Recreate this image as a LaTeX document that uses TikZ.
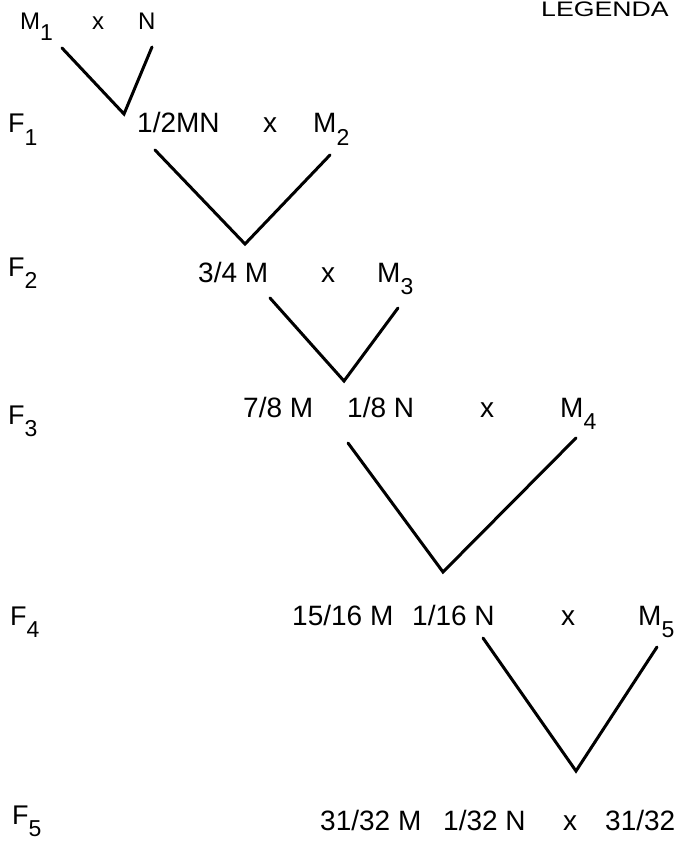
\documentclass[tikz,border=0pt]{standalone}
\usepackage{fontspec}
\setmainfont{Liberation Sans}
\newcommand\lsub[1]{\raisebox{-0.45em}{\fontsize{23}{23}\selectfont #1}}
\tikzset{
  lbl/.style={anchor=base west, inner sep=0pt, font=\fontsize{28}{30}\selectfont},
  toplbl/.style={anchor=base west, inner sep=0pt, font=\fontsize{24}{26}\selectfont},
  cross/.style={anchor=base, inner sep=0pt, font=\fontsize{28}{30}\selectfont},
  gen/.style={anchor=base west, inner sep=0pt, font=\fontsize{27}{30}\selectfont},
  cline/.style={line width=3pt, line join=miter, line cap=round}
}
\begin{document}
\begin{tikzpicture}[x=1pt,y=-1pt]
\path[use as bounding box] (0,0) rectangle (678,845);
\clip (0,0) rectangle (678,845);
\fill[white] (0,0) rectangle (678,845);

% legend
\node[anchor=base west, inner sep=0pt, font=\fontsize{21}{22}\selectfont] (leg) at (541,17) {\scalebox{1.27}[1]{LEGENDA}};

% generation labels
\node[gen] (f1) at (8,133) {F\lsub{1}};
\node[gen] (f2) at (8,276) {F\lsub{2}};
\node[gen] (f3) at (8,424) {F\lsub{3}};
\node[gen] (f4) at (10,625) {F\lsub{4}};
\node[gen] (f5) at (12,824) {F\lsub{5}};

% row 0
\node[toplbl] (m1) at (20,30) {M\lsub{1}};
\node[anchor=base, inner sep=0pt, font=\fontsize{24}{26}\selectfont] (x0) at (98,30) {x};
\node[toplbl] (n0) at (138,30) {N};

% row 1
\node[lbl] (r1a) at (137,133) {1/2MN};
\node[cross] (x1) at (270,133) {x};
\node[lbl] (m2) at (313,133) {M\lsub{2}};

% row 2
\node[lbl] (r2a) at (198,282) {3/4 M};
\node[cross] (x2) at (328,282) {x};
\node[lbl] (m3) at (377,282) {M\lsub{3}};

% row 3
\node[lbl] (r3a) at (243,417) {7/8 M};
\node[lbl] (r3b) at (347,417) {1/8 N};
\node[cross] (x3) at (487,417) {x};
\node[lbl] (m4) at (560,417) {M\lsub{4}};

% row 4
\node[lbl] (r4a) at (292,625) {15/16 M};
\node[lbl] (r4b) at (412,625) {1/16 N};
\node[cross] (x4) at (568,625) {x};
\node[lbl] (m5) at (638,625) {M\lsub{5}};

% row 5
\node[lbl] (r5a) at (320,830) {31/32 M};
\node[lbl] (r5b) at (443,830) {1/32 N};
\node[cross] (x5) at (570,830) {x};
\node[lbl] (r5c) at (605,830) {31/32};

% connector end points
\coordinate (a0) at (62,48);  \coordinate (v0) at (124,114); \coordinate (b0) at (152,47);
\coordinate (a1) at (155,150); \coordinate (v1) at (245,244); \coordinate (b1) at (330,155);
\coordinate (a2) at (270,298); \coordinate (v2) at (344,381); \coordinate (b2) at (398,308);
\coordinate (a3) at (348,443); \coordinate (v3) at (443,572); \coordinate (b3) at (576,438);
\coordinate (a4) at (483,638); \coordinate (v4) at (576,771); \coordinate (b4) at (657,647);

\draw[cline] (a0) -- (v0) -- (b0);
\draw[cline] (a1) -- (v1) -- (b1);
\draw[cline] (a2) -- (v2) -- (b2);
\draw[cline] (a3) -- (v3) -- (b3);
\draw[cline] (a4) -- (v4) -- (b4);
\end{tikzpicture}
\end{document}
